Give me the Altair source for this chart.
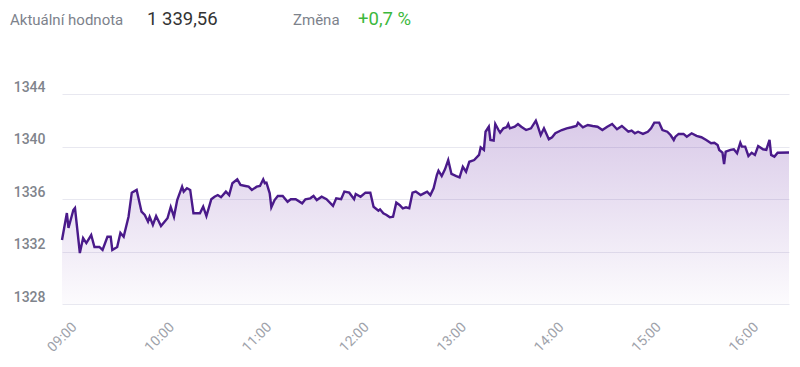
import altair as alt
import pandas as pd

# ---- data ----
times = [
    "09:00","09:03","09:04","09:07","09:08","09:11","09:13","09:15","09:18","09:20",
    "09:23","09:25","09:28","09:30","09:31","09:34","09:36","09:38","09:41","09:43",
    "09:46","09:49","09:51","09:53","09:54","09:56","09:58","10:01","10:05","10:07",
    "10:09","10:11","10:14","10:15","10:17","10:19","10:21","10:25","10:27","10:29",
    "10:32","10:34","10:36","10:38","10:41","10:43","10:45","10:48","10:50","10:53",
    "10:55","10:57","11:00","11:02","11:04","11:05","11:06","11:08","11:09","11:11",
    "11:13","11:16","11:19","11:21","11:24","11:28","11:30","11:33","11:35","11:37",
    "11:40","11:43","11:47","11:49","11:52","11:54","11:57","12:00","12:01","12:04",
    "12:07","12:10","12:12","12:15","12:16","12:18","12:20","12:22","12:24","12:26",
    "12:28","12:30","12:32","12:34","12:36","12:38","12:41","12:43","12:45","12:47",
    "12:49","12:51","12:52","12:54","12:56","12:58","13:00","13:03","13:05","13:07",
    "13:09","13:11","13:14","13:17","13:18","13:20","13:21","13:23","13:24","13:26",
    "13:27","13:29","13:30","13:32","13:34","13:35","13:36","13:39","13:41","13:43",
    "13:46","13:49","13:52","13:53","13:55","13:57","14:00","14:02","14:04","14:08",
    "14:11","14:14","14:17","14:18","14:21","14:24","14:27","14:30","14:33","14:36",
    "14:39","14:42","14:45","14:49","14:51","14:53","14:55","14:58","15:01","15:03",
    "15:05","15:08","15:10","15:13","15:15","15:17","15:18","15:20","15:23","15:25",
    "15:28","15:31","15:34","15:37","15:40","15:42","15:44","15:45","15:47","15:48",
    "15:49","15:52","15:54","15:56","15:58","15:59","16:01","16:03","16:05","16:07",
    "16:09","16:12","16:14","16:16","16:17","16:19","16:21","16:28",
]
values = [
    1332.88,1334.94,1333.80,1335.17,1335.32,1331.89,1333.03,1332.65,1333.26,1332.35,
    1332.35,1332.12,1333.13,1333.13,1332.12,1332.35,1333.42,1333.13,1334.66,1336.49,
    1336.70,1335.04,1334.79,1334.28,1334.66,1334.03,1334.71,1333.95,1334.54,1335.40,
    1334.66,1335.93,1336.95,1336.57,1336.83,1336.70,1334.92,1334.92,1335.42,1334.71,
    1335.99,1336.18,1336.31,1336.14,1336.57,1336.31,1337.21,1337.51,1337.08,1337.00,
    1336.95,1336.70,1336.95,1337.00,1337.51,1337.21,1337.25,1336.44,1335.38,1335.93,
    1336.24,1336.24,1335.80,1335.99,1335.99,1335.68,1335.99,1336.06,1336.24,1335.93,
    1336.18,1335.99,1335.48,1336.06,1335.99,1336.57,1336.49,1335.99,1336.39,1336.18,
    1336.49,1336.49,1335.42,1335.12,1335.22,1334.92,1334.79,1334.61,1334.66,1335.73,
    1335.55,1335.30,1335.38,1335.30,1336.49,1336.57,1336.31,1336.44,1336.57,1336.31,
    1336.83,1337.84,1338.17,1337.76,1338.27,1338.98,1337.92,1337.76,1337.66,1338.47,
    1338.09,1338.85,1338.98,1339.37,1339.95,1339.75,1341.14,1341.52,1340.51,1340.46,
    1341.73,1341.27,1341.07,1341.40,1341.48,1341.73,1341.40,1341.52,1341.73,1341.52,
    1341.27,1341.40,1341.98,1341.65,1340.89,1341.40,1340.56,1340.72,1341.02,1341.27,
    1341.40,1341.48,1341.58,1341.83,1341.48,1341.65,1341.58,1341.52,1341.27,1341.52,
    1341.73,1341.33,1341.58,1341.14,1341.22,1341.02,1341.14,1340.97,1341.14,1341.40,
    1341.83,1341.83,1341.27,1341.14,1340.89,1340.51,1340.76,1340.97,1340.97,1340.76,
    1341.02,1340.82,1340.72,1340.51,1340.26,1340.30,1340.13,1339.75,1339.54,1338.68,
    1339.62,1339.75,1339.80,1339.50,1340.30,1340.00,1340.00,1339.29,1339.54,1339.37,
    1340.05,1339.80,1339.75,1340.51,1339.37,1339.24,1339.54,1339.56,
]
y_ticks = [1328, 1330, 1332, 1334, 1336, 1338, 1340, 1342, 1344, 1346]
x_ticks = ["09:00", "10:00", "11:00", "12:00", "13:00", "14:00", "15:00", "16:00"]
x_domain = ["09:00", "16:28"]
header_labels = ["Aktuální hodnota", "Změna"]
header_values = ["1 339,56", "+0,7 %"]

DAY = "2024-01-02T"
df = pd.DataFrame({"t": [DAY + t + ":00" for t in times], "v": values})

FONT = "Roboto"
LINE = "#4a1a8a"

x_enc = alt.X(
    "t:T",
    scale=alt.Scale(domain=[DAY + d + ":00" for d in x_domain], nice=False),
    axis=alt.Axis(
        values=[alt.DateTime(year=2024, month=1, date=2, hours=int(s[:2]), minutes=0) for s in x_ticks],
        format="%H:%M",
        labelAngle=-45,
        labelAlign="center",
        labelBaseline="middle",
        labelPadding=33,
        labelColor="#9ea2aa",
        labelFontSize=14,
        labelFont=FONT,
        grid=False,
        domain=False,
        ticks=False,
        tickSize=0,
        title=None,
    ),
)
y_enc = alt.Y(
    "v:Q",
    scale=alt.Scale(domain=[y_ticks[0], y_ticks[-1]], nice=False, zero=False),
    axis=alt.Axis(
        values=y_ticks,
        labelExpr="datum.value % 4 == 0 ? datum.label : ''",
        format="d",
        labelBaseline="bottom",
        labelPadding=17,
        labelColor="#80848c",
        labelFontSize=14,
        labelFontWeight=500,
        labelFont=FONT,
        grid=True,
        gridColor="#e8e8f0",
        gridWidth=1,
        domain=False,
        ticks=False,
        tickSize=0,
        title=None,
    ),
)

base = alt.Chart(df)

area = base.mark_area(
    color=alt.Gradient(
        gradient="linear",
        stops=[
            alt.GradientStop(color="rgba(105,45,165,0.25)", offset=0),
            alt.GradientStop(color="rgba(105,45,165,0.02)", offset=1),
        ],
        x1=1, x2=1, y1=0, y2=1,
    )
).encode(x=x_enc, y=y_enc, y2=alt.datum(y_ticks[0]))

line = base.mark_line(color=LINE, strokeWidth=2.4, interpolate="linear").encode(
    x="t:T", y="v:Q"
)

def header(text, xpos, size, color):
    return alt.Chart(pd.DataFrame({"s": [text]})).mark_text(
        align="left", baseline="alphabetic", font=FONT, fontSize=size, color=color
    ).encode(text="s:N", x=alt.value(xpos), y=alt.value(-43))

h1 = header(header_labels[0], -52, 15, "#7d828b")
h2 = header(header_values[0], 85, 18.5, "#333333")
h3 = header(header_labels[1], 231, 15, "#7d828b")
h4 = header(header_values[1], 296, 18.5, "#3cb83c")

chart = (
    alt.layer(area, line, h1, h2, h3, h4)
    .properties(
        width=727,
        height=236,
        padding={"left": 54, "top": 60, "right": 3, "bottom": 50},
        autosize=alt.AutoSizeParams(type="none"),
        background="white",
    )
    .configure_view(stroke=None)
)

chart.save("out.html", embed_options={"renderer": "svg", "actions": False})
